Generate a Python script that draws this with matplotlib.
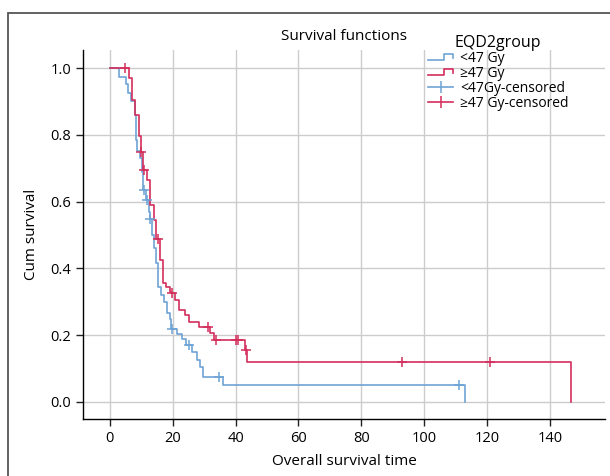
import numpy as np
import matplotlib
matplotlib.use('Agg')
import matplotlib.pyplot as plt
from matplotlib.lines import Line2D
from matplotlib.legend_handler import HandlerBase
from matplotlib.patches import Rectangle

plt.rcParams['font.family'] = ['Open Sans', 'DejaVu Sans']

# step points of the Kaplan-Meier curves (time of drop, survival after drop)
low_t = [0, 2.8, 5.2, 5.8, 6.8, 7.9, 8.2, 8.8, 9.6, 10.2, 10.5, 11.5, 12.4, 12.7,
         13.5, 14.0, 14.7, 15.5, 16.4, 17.1, 18.2, 19.2, 19.6, 21.4, 23.0, 24.3,
         26.1, 27.7, 28.8, 29.8, 36.0, 112.9]
low_s = [1.0, 0.972, 0.952, 0.926, 0.900, 0.860, 0.784, 0.752, 0.730, 0.690, 0.635,
         0.605, 0.570, 0.547, 0.500, 0.460, 0.415, 0.345, 0.320, 0.300, 0.265, 0.247,
         0.220, 0.205, 0.188, 0.171, 0.151, 0.126, 0.104, 0.076, 0.051, 0.0]
low_cens = [10.8, 11.8, 12.9, 19.8, 25.1, 34.9, 111.0]

high_t = [0, 6.0, 7.0, 8.1, 9.3, 9.8, 10.6, 11.8, 12.9, 14.2, 14.8, 16.1, 16.9,
          18.0, 19.2, 19.4, 20.8, 21.9, 24.0, 25.1, 28.3, 31.8, 33.0, 42.9, 43.8,
          146.7]
high_s = [1.0, 0.969, 0.904, 0.859, 0.795, 0.750, 0.695, 0.665, 0.590, 0.545, 0.487,
          0.425, 0.357, 0.345, 0.330, 0.325, 0.305, 0.275, 0.260, 0.240, 0.225, 0.206,
          0.186, 0.156, 0.119, 0.0]
high_cens = [5.0, 10.0, 11.0, 15.2, 19.8, 31.1, 33.9, 40.2, 40.8, 43.3, 93.0, 120.8]

x_ticks = [0, 20, 40, 60, 80, 100, 120, 140]
y_ticks = [0.0, 0.2, 0.4, 0.6, 0.8, 1.0]

blue = '#6ea3d6'
red = '#d42e5c'


def surv_at(times, surv, t):
    i = np.searchsorted(times, t, side='right') - 1
    return np.array(surv)[i]


class StepHandler(HandlerBase):
    def create_artists(self, legend, orig_handle, xdescent, ydescent,
                       width, height, fontsize, trans):
        w = width
        h = height
        xs = [0, 0.62 * w, 0.62 * w, w, w]
        ys = [0.2 * h, 0.2 * h, 0.85 * h, 0.85 * h, 0.45 * h]
        ln = Line2D(np.array(xs) - xdescent, np.array(ys) - ydescent,
                    color=orig_handle.get_color(), lw=1.2, transform=trans)
        return [ln]


fig = plt.figure(figsize=(6.1, 4.76), dpi=100)
ax = fig.add_axes([83 / 610, 1 - 419 / 476, 522 / 610, 369 / 476])

ax.step(low_t, low_s, where='post', color=blue, lw=1.2)
ax.step(high_t, high_s, where='post', color=red, lw=1.2)
ax.plot(low_cens, surv_at(low_t, low_s, low_cens), '+', color=blue, ms=6.5, mew=1.1)
ax.plot(high_cens, surv_at(high_t, high_s, high_cens), '+', color=red, ms=6.5, mew=1.1)

ax.set_xlim(-8.5, 157.5)
ax.set_ylim(-0.051, 1.054)
ax.set_xticks(x_ticks)
ax.set_yticks(y_ticks)
ax.set_yticklabels([f'{v:.1f}' for v in y_ticks])
ax.tick_params(labelsize=10.5, length=5, width=1, color='#222222')
ax.grid(True, color='#cccccc', lw=1)
ax.set_axisbelow(True)
for side in ['top', 'right']:
    ax.spines[side].set_visible(False)
for side in ['left', 'bottom']:
    ax.spines[side].set_linewidth(1)

ax.set_title('Survival functions', fontsize=11, pad=7)
ax.set_xlabel('Overall survival time', fontsize=11, labelpad=6)
ax.set_ylabel('Cum survival', fontsize=11, labelpad=8)

h_low = Line2D([], [], color=blue)
h_high = Line2D([], [], color=red)
h_lc = Line2D([], [], color=blue, lw=1.2, marker='|', ms=8, mew=1.1)
h_hc = Line2D([], [], color=red, lw=1.2, marker='|', ms=8, mew=1.1)
leg = ax.legend([h_low, h_high, h_lc, h_hc],
                ['<47 Gy', '≥47 Gy', '<47Gy-censored', '≥47 Gy-censored'],
                handler_map={h_low: StepHandler(), h_high: StepHandler()},
                title='EQD2group', title_fontsize=11.5, fontsize=10,
                loc='upper left', bbox_to_anchor=(428 / 610, 1 - 35 / 476),
                bbox_transform=fig.transFigure, frameon=False,
                handlelength=1.8, handletextpad=0.5, labelspacing=0.0,
                borderpad=0, borderaxespad=0)

fig.patches.append(Rectangle((8 / 610, -0.1), 1.2, 1 - 13 / 476 + 0.1,
                             transform=fig.transFigure, fill=False,
                             edgecolor='#555555', lw=1.3))

fig.savefig('out.png', dpi=100)
